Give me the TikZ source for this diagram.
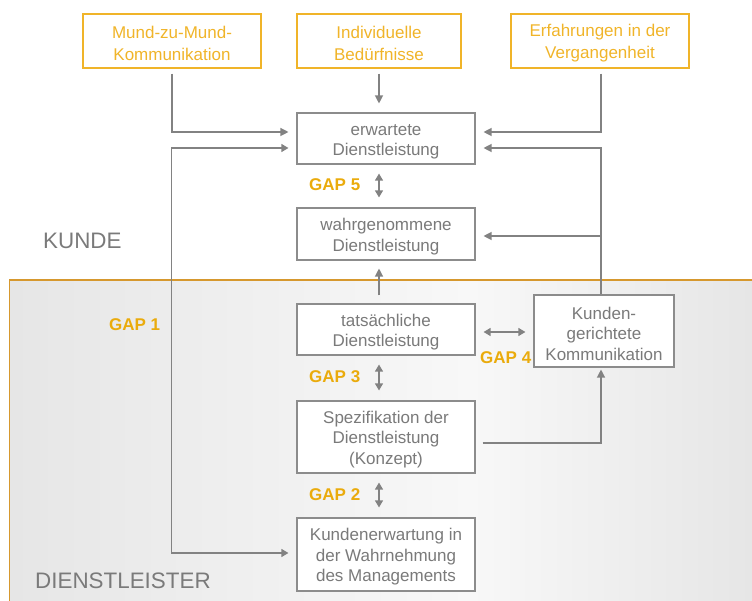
\documentclass[tikz,border=0pt]{standalone}
\usepackage{fontspec}
\setmainfont{Liberation Sans}
\usetikzlibrary{arrows.meta}

\definecolor{boxorange}{HTML}{F0B429}
\definecolor{gaporange}{HTML}{EAAB0C}
\definecolor{sepline}{HTML}{D6982E}
\definecolor{linegray}{HTML}{828282}
\definecolor{textgray}{HTML}{7A7A7A}
\definecolor{boxgray}{HTML}{8C8C8C}
\definecolor{shadeedge}{HTML}{E6E6E6}
\definecolor{shademid}{HTML}{F8F8F8}

% taller first line, so the box text sits a little lower
\newcommand\topstrut{\rule{0pt}{17.5pt}}

\tikzset{
  x=1pt, y=-1pt,
  txt/.style={font=\fontsize{17}{20.5}\selectfont, align=center, inner sep=0pt},
  srcbox/.style={txt, font=\fontsize{17}{22}\selectfont, draw=boxorange, line width=1.1pt,
    text=boxorange, minimum width=178pt, minimum height=54pt},
  mainbox/.style={txt, draw=boxgray, line width=1.1pt, fill=white, text=textgray,
    minimum width=178pt},
  gaplabel/.style={font=\fontsize{17}{20}\selectfont\bfseries, text=gaporange,
    inner sep=0pt, anchor=west},
  zone/.style={font=\fontsize{22.4}{24}\selectfont, text=textgray, inner sep=0pt, anchor=west},
  conn/.style={draw=linegray, line width=1.2pt},
  arr/.style={conn, -{Triangle[length=8pt,width=8pt]}},
  dbl/.style={conn, {Triangle[length=7pt,width=8pt]}-{Triangle[length=7pt,width=8pt]}},
}

\begin{document}
\begin{tikzpicture}
\useasboundingbox (0,0) rectangle (752,601);

% provider area: shaded background with orange border
\shade[left color=shadeedge, right color=shademid] (9.5,280) rectangle (470,601);
\shade[left color=shademid, right color=shadeedge] (470,280) rectangle (752,601);
\draw[sepline, line width=1.2pt] (9.5,601) -- (9.5,280) -- (752,280);

% zone labels
\node[zone] (kunde) at (43,241) {KUNDE};
\node[zone] (dienst) at (35,581) {DIENSTLEISTER};

% influencing factors
\node[srcbox] (mund) at (172,41) {\topstrut Mund-zu-Mund-\\Kommunikation};
\node[srcbox, minimum width=164pt] (indiv) at (379,41) {\topstrut Individuelle\\Bedürfnisse};
\node[srcbox] (erf) at (600,41) {\topstrut Erfahrungen in der\\Vergangenheit};

% main chain
\node[mainbox, minimum height=51pt] (erw) at (386,138.5) {\topstrut erwartete\\Dienstleistung};
\node[mainbox, minimum height=52pt] (wahr) at (386,234) {\topstrut wahrgenommene\\Dienstleistung};
\node[mainbox, minimum height=51pt] (tats) at (386,329.5) {\topstrut tatsächliche\\Dienstleistung};
\node[mainbox, minimum height=72pt] (spez) at (386,437) {\topstrut Spezifikation der\\Dienstleistung\\(Konzept)};
\node[mainbox, minimum height=73pt] (kmgt) at (386,554.5) {\topstrut Kundenerwartung in\\der Wahrnehmung\\des Managements};
\node[mainbox, minimum width=140pt, minimum height=72pt] (kkom) at (604,331) {\topstrut Kunden-\\gerichtete\\Kommunikation};

% gap labels
\node[gaplabel] (g5) at (309,185) {GAP 5};
\node[gaplabel] (g3) at (309,377) {GAP 3};
\node[gaplabel] (g2) at (309,495) {GAP 2};
\node[gaplabel] (g1) at (109,325) {GAP 1};
\node[gaplabel] (g4) at (480,358) {GAP 4};

% factors into expected service
\draw[arr, shorten <=5pt, shorten >=8pt] (mund.south) |- ([yshift=6.5pt]erw.west);
\draw[arr, shorten <=5pt, shorten >=9pt] (indiv.south) -- ([xshift=-7pt]erw.north);
\draw[arr, shorten <=5pt, shorten >=8pt] ([xshift=1pt]erf.south) |- ([yshift=6.5pt]erw.east);

% communication towards the customer
\coordinate (kk) at ([xshift=-3pt]kkom.north);
\draw[arr, shorten >=8pt] (kk) |- ([yshift=-9.5pt]erw.east);
\draw[arr, shorten >=8pt] (kk) |- ([yshift=-2pt]wahr.east);
\draw[arr, shorten <=7pt, shorten >=2pt] ([yshift=-6pt]spez.east) -| ([xshift=-3pt]kkom.south);

% delivered service is perceived
\draw[arr, shorten <=8pt, shorten >=8pt] ([xshift=-7pt]tats.north) -- ([xshift=-7pt]wahr.south);

% gaps
\draw[dbl, shorten <=9pt, shorten >=10pt] ([xshift=-7pt]erw.south) -- ([xshift=-7pt]wahr.north);
\draw[dbl, shorten <=9pt, shorten >=10pt] ([xshift=-7pt]tats.south) -- ([xshift=-7pt]spez.north);
\draw[dbl, shorten <=9pt, shorten >=10pt] ([xshift=-7pt]spez.south) -- ([xshift=-7pt]kmgt.north);
\coordinate (g4a) at ([yshift=-2.5pt]tats.east);
\draw[dbl, shorten <=8pt, shorten >=8pt] (g4a) -- (g4a -| kkom.west);
\draw[dbl, shorten <=8pt, shorten >=8pt] ([yshift=-9.5pt]erw.west) -- ++(-125,0) |- ([yshift=1.5pt]kmgt.west);
\end{tikzpicture}
\end{document}
